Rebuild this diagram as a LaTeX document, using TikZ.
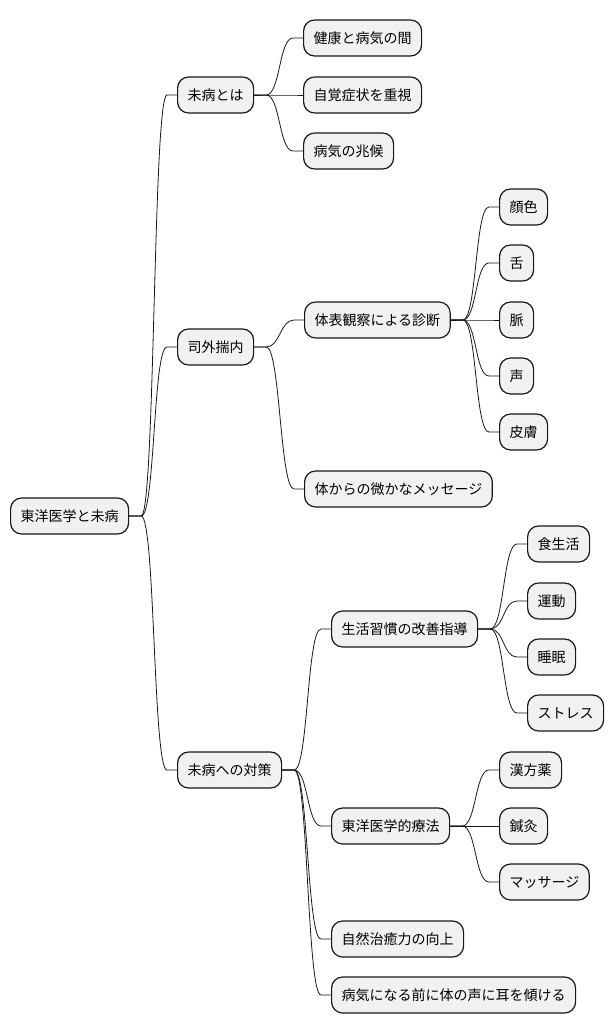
\documentclass[tikz,border=0pt]{standalone}
\usepackage{fontspec}
\setmainfont{Noto Sans CJK JP}
\usetikzlibrary{calc}
\definecolor{boxfill}{HTML}{F1F1F1}
\definecolor{linec}{HTML}{181818}
\tikzset{
  mm/.style={draw=linec, fill=boxfill, line width=1.2pt, rounded corners=11pt,
    minimum height=36pt, inner xsep=10pt, inner ysep=0pt, anchor=west,
    font=\fontsize{14pt}{16pt}\selectfont, text=black},
  conn/.style={draw=linec, line width=0.8pt}
}
\begin{document}
\begin{tikzpicture}[x=1pt,y=-1pt]
\useasboundingbox (0,0) rectangle (614,1034);
\node[mm] (root) at (10,516) {東洋医学と未病};
\node[mm] (a1) at (177,95) {未病とは};
\node[mm] (a1c1) at (303,38) {健康と病気の間};
\node[mm] (a1c2) at (303,95) {自覚症状を重視};
\node[mm] (a1c3) at (303,151) {病気の兆候};
\node[mm] (a2) at (177,347) {司外揣内};
\node[mm] (a2c1) at (304,320) {体表観察による診断};
\node[mm] (d1) at (499,207) {顔色};
\node[mm] (d2) at (499,263) {舌};
\node[mm] (d3) at (499,320) {脈};
\node[mm] (d4) at (499,376) {声};
\node[mm] (d5) at (499,432) {皮膚};
\node[mm] (a2c2) at (304,489) {体からの微かなメッセージ};
\node[mm] (a3) at (177,770) {未病への対策};
\node[mm] (b1) at (331,629) {生活習慣の改善指導};
\node[mm] (e1) at (527,544) {食生活};
\node[mm] (e2) at (527,601) {運動};
\node[mm] (e3) at (527,657) {睡眠};
\node[mm] (e4) at (527,713) {ストレス};
\node[mm] (b2) at (331,826) {東洋医学的療法};
\node[mm] (f1) at (499,770) {漢方薬};
\node[mm] (f2) at (499,826) {鍼灸};
\node[mm] (f3) at (499,882) {マッサージ};
\node[mm] (b3) at (331,939) {自然治癒力の向上};
\node[mm] (b4) at (331,995) {病気になる前に体の声に耳を傾ける};
\foreach \p/\c in {root/a1,root/a2,root/a3,a1/a1c1,a1/a1c2,a1/a1c3,a2/a2c1,a2/a2c2,
  a2c1/d1,a2c1/d2,a2c1/d3,a2c1/d4,a2c1/d5,a3/b1,a3/b2,a3/b3,a3/b4,
  b1/e1,b1/e2,b1/e3,b1/e4,b2/f1,b2/f2,b2/f3}
  \draw[conn] (\p.east) -- ++(12,0) .. controls +(14,0) and +(-14,0) .. ($(\c.west)+(-10,0)$) -- (\c.west);
\end{tikzpicture}
\end{document}
